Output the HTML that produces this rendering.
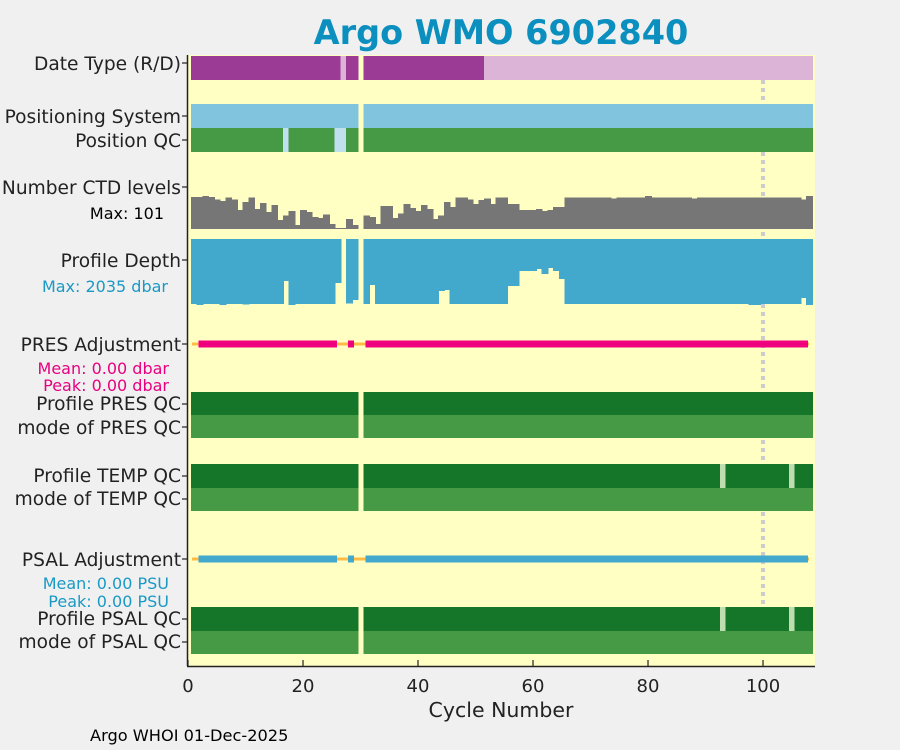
<!DOCTYPE html>
<html><head><meta charset="utf-8"><style>
body{margin:0;background:#f0f0f0;}
svg{display:block;font-family:"DejaVu Sans","Liberation Sans",sans-serif;}
#marks rect{shape-rendering:crispEdges;}
</style></head><body>
<svg id="chart" width="900" height="750">
<rect x="0" y="0" width="900" height="750" fill="#f0f0f0"/>
<text x="501" y="44" text-anchor="middle" font-size="33.5" font-weight="bold" fill="#0a8fbf">Argo WMO 6902840</text>
<rect x="188" y="55" width="627" height="611" fill="#ffffc4"/>
<g id="marks"></g>
<line x1="187.5" y1="55" x2="187.5" y2="666" stroke="#222" stroke-width="1.5"/>
<line x1="187" y1="666.5" x2="815" y2="666.5" stroke="#222" stroke-width="1.5"/>
<g id="xticks"></g>
<g id="ylabels" font-size="18.6" fill="#222" text-anchor="end">
<text x="181" y="70">Date Type (R/D)</text>
<text x="181" y="123">Positioning System</text>
<text x="181" y="147">Position QC</text>
<text x="181" y="194">Number CTD levels</text>
<text x="164" y="219" font-size="16" fill="#000">Max: 101</text>
<text x="181" y="267">Profile Depth</text>
<text x="168" y="292" font-size="16" fill="#1a99c4">Max: 2035 dbar</text>
<text x="181" y="351">PRES Adjustment</text>
<text x="169" y="374" font-size="16" fill="#e8007f">Mean: 0.00 dbar</text>
<text x="169" y="391" font-size="16" fill="#e8007f">Peak: 0.00 dbar</text>
<text x="181" y="410">Profile PRES QC</text>
<text x="181" y="434">mode of PRES QC</text>
<text x="181" y="482">Profile TEMP QC</text>
<text x="181" y="505">mode of TEMP QC</text>
<text x="181" y="566">PSAL Adjustment</text>
<text x="169" y="589" font-size="16" fill="#1a99c4">Mean: 0.00 PSU</text>
<text x="169" y="607" font-size="16" fill="#1a99c4">Peak: 0.00 PSU</text>
<text x="181" y="625">Profile PSAL QC</text>
<text x="181" y="648">mode of PSAL QC</text>
</g>
<text x="501" y="717" text-anchor="middle" font-size="20.5" fill="#222">Cycle Number</text>
<text x="90" y="741" font-size="16.2" fill="#000">Argo WHOI 01-Dec-2025</text>
</svg>
<script>
const cycles = []; for (let i = 1; i <= 108; i++) cycles.push(i);
const missingCycles = [30];
const delayedCycles = [27];
const delayedFrom = 52;
const posQcBad = [17, 26, 27];
const tempQcBad = [93, 105];
const psalQcBad = [93, 105];
const ctdLevels = [98,98,101,98,91,85,97,91,58,82,97,61,79,52,73,27,42,55,12,58,52,36,33,45,15,3,2,30,12,null,
42,36,15,70,70,33,48,76,64,55,73,61,30,42,82,67,97,97,91,76,88,94,76,97,97,76,76,58,58,58,
61,55,58,67,67,97,97,97,97,97,97,97,97,94,97,97,97,97,97,101,97,97,97,97,97,97,97,94,97,97,
97,97,97,97,97,97,97,97,97,97,97,97,97,97,97,97,91,101];
const profileDepth = [2000,2035,2000,2000,2000,2035,2000,2000,2000,2020,2000,2010,2000,2010,2000,2000,1295,2030,2000,2010,2000,2000,2000,2000,2000,1357,null,1983,1880,null,
2000,1418,2000,2000,2000,2000,2000,2000,2000,2000,2000,2000,2000,1603,1572,2000,2000,2000,2000,2000,2000,2000,2000,2000,2000,1450,1450,987,987,987,
925,1079,894,987,1233,2000,2000,2000,2000,2010,2000,2000,2000,2000,2000,2000,2000,2000,2000,2000,2000,2000,2000,2000,2000,2000,2000,2000,2000,2000,
2000,2000,2000,2000,2000,2000,2000,2035,2035,2000,2000,2000,2000,2000,2000,2000,1820,2035];
const xTicks = [0, 20, 40, 60, 80, 100];
const xMax = 109.04;
const pxPerCycle = 627 / xMax;
function X(c){ return 188 + c * pxPerCycle; }
const NS = "http://www.w3.org/2000/svg";
const marks = document.getElementById("marks");
function rect(x,y,w,h,fill,name){
  const r = document.createElementNS(NS,"rect");
  r.setAttribute("x",x); r.setAttribute("y",y); r.setAttribute("width",w); r.setAttribute("height",h); r.setAttribute("fill",fill);
  
  
  marks.appendChild(r); return r;
}
const dl = document.createElementNS(NS,"line");
dl.setAttribute("x1",X(100)); dl.setAttribute("x2",X(100)); dl.setAttribute("y1",80); dl.setAttribute("y2",605);
dl.setAttribute("stroke","#cccccc"); dl.setAttribute("stroke-width","4"); dl.setAttribute("stroke-dasharray","4 4");


marks.appendChild(dl);
function band(y,h,colorFn,name){
  cycles.forEach(c=>{
    if (missingCycles.includes(c)) return;
    rect(X(c-0.5), y, pxPerCycle+1, h, colorFn(c), name);
  });
}
band(56,24,c=>(delayedCycles.includes(c)||c>=delayedFrom)?"#dcb4d8":"#9b3b96","date-type-cell");
band(104,24,c=>"#80c4de","positioning-system-cell");
band(128,24,c=>posQcBad.includes(c)?"#c0e0ee":"#469a46","position-qc-cell");
band(392,23,c=>"#15762a","profile-pres-qc-cell");
band(415,23,c=>"#469a46","mode-pres-qc-cell");
band(464,24,c=>tempQcBad.includes(c)?"#c0ddb0":"#15762a","profile-temp-qc-cell");
band(488,23,c=>"#469a46","mode-temp-qc-cell");
band(607,24,c=>psalQcBad.includes(c)?"#c0ddb0":"#15762a","profile-psal-qc-cell");
band(631,23,c=>"#469a46","mode-psal-qc-cell");
const ctdBase = 229, ctdH = 33, ctdMax = 101;
cycles.forEach((c,i)=>{
  const v = ctdLevels[i]; if (v==null) return;
  const h = Math.max(v/ctdMax*ctdH, 1);
  rect(X(c-0.5), ctdBase-h, pxPerCycle+1, h, "#767676", "ctd-levels-bar");
});
const depthTop = 239, depthH = 66, depthMax = 2035;
cycles.forEach((c,i)=>{
  const v = profileDepth[i]; if (v==null) return;
  rect(X(c-0.5), depthTop, pxPerCycle+1, v/depthMax*depthH, "#42a8cc", "profile-depth-bar");
});
function adj(y, color, name){
  rect(X(0.7), y-1.5, X(108)-X(0.7), 3, "#ffbb44", name+"-baseline");
  [[1.8,25.9],[27.8,28.9],[30.9,107.8]].forEach(s=>rect(X(s[0]), y-3.5, X(s[1])-X(s[0]), 7, color, name+"-segment"));
}
adj(344,"#f0007f","pres-adjustment");
adj(559,"#42a8cc","psal-adjustment");
[63,116,140,187,260,344,404,427,476,499,559,619,642].forEach(y=>{
  const t = document.createElementNS(NS,"line");
  t.setAttribute("x1",182); t.setAttribute("x2",188); t.setAttribute("y1",y); t.setAttribute("y2",y);
  t.setAttribute("stroke","#222"); t.setAttribute("stroke-width","1.2");
  
  
  document.getElementById("xticks").appendChild(t);
});
const xt = document.getElementById("xticks");
xTicks.forEach(v=>{
  const t = document.createElementNS(NS,"line");
  t.setAttribute("x1",X(v)); t.setAttribute("x2",X(v)); t.setAttribute("y1",660); t.setAttribute("y2",666);
  t.setAttribute("stroke","#222"); t.setAttribute("stroke-width","1.2");
  
  
  xt.appendChild(t);
  const l = document.createElementNS(NS,"text");
  l.setAttribute("x",X(v)); l.setAttribute("y",692); l.setAttribute("text-anchor","middle");
  l.setAttribute("font-size","18"); l.setAttribute("fill","#222");
  l.textContent = v;
  
  
  xt.appendChild(l);
});
</script>
</body></html>
